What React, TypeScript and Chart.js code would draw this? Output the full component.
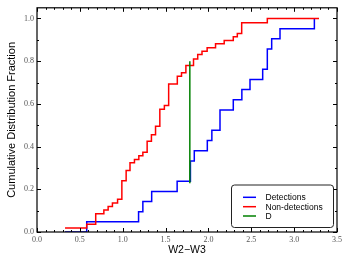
import React, { useEffect, useRef } from 'react';
import { Chart, registerables } from 'chart.js';

Chart.register(...registerables);

// Detections CDF (step positions and cumulative fractions)
const detX = [0.327, 0.58, 1.185, 1.235, 1.338, 1.635, 1.79, 1.835, 1.987, 2.04, 2.135, 2.29, 2.39, 2.485, 2.633, 2.687, 2.738, 2.835, 3.236];
const detY = [0, 0.048, 0.095, 0.143, 0.19, 0.238, 0.333, 0.381, 0.429, 0.476, 0.571, 0.619, 0.667, 0.714, 0.762, 0.857, 0.905, 0.952, 1.0];

// Non-detections CDF
const nonX = [0.327, 0.58, 0.685, 0.78, 0.83, 0.88, 0.94, 0.99, 1.04, 1.085, 1.137, 1.188, 1.235, 1.285, 1.335, 1.383, 1.433, 1.486, 1.536, 1.637, 1.686, 1.737, 1.826, 1.875, 1.925, 1.985, 2.083, 2.184, 2.29, 2.337, 2.388, 2.687, 3.29];
const nonY = [0.019, 0.036, 0.086, 0.103, 0.12, 0.136, 0.153, 0.24, 0.288, 0.324, 0.34, 0.357, 0.373, 0.425, 0.455, 0.495, 0.575, 0.593, 0.693, 0.73, 0.746, 0.78, 0.81, 0.831, 0.847, 0.863, 0.882, 0.897, 0.915, 0.93, 0.98, 1.0, 1.0];

// D statistic line
const dX = [1.783, 1.783];
const dY = [0.228, 0.8];

const seriesLabels = ['Detections', 'Non-detections', 'D'];
const seriesColors = ['#0000ff', '#ff0000', '#008000'];

const xMajor = [0, 0.5, 1.0, 1.5, 2.0, 2.5, 3.0, 3.5];
const yMajor = [0, 0.2, 0.4, 0.6, 0.8, 1.0];

const toPts = (xs: number[], ys: number[]) => xs.map((x, i) => ({ x, y: ys[i] }));

const framePlugin = {
  id: 'frameTicks',
  afterDatasetsDraw(chart: any) {
    const { ctx, chartArea: a, scales } = chart;
    const xs = scales.x;
    const ys = scales.y;
    ctx.save();
    ctx.strokeStyle = '#000';
    ctx.lineWidth = 1;
    ctx.beginPath();
    for (let i = 0; i <= 35; i++) {
      const v = i / 10;
      const px = Math.round(xs.getPixelForValue(v)) + 0.5;
      const major = i % 5 === 0;
      const len = major ? 4 : 2;
      ctx.moveTo(px, a.bottom);
      ctx.lineTo(px, a.bottom - len);
      ctx.moveTo(px, a.top);
      ctx.lineTo(px, a.top + len);
    }
    for (let i = 0; i <= 10; i++) {
      const v = i / 10;
      const py = Math.round(ys.getPixelForValue(v)) + 0.5;
      const major = i % 2 === 0;
      const len = major ? 4 : 2;
      ctx.moveTo(a.left, py);
      ctx.lineTo(a.left + len, py);
      ctx.moveTo(a.right, py);
      ctx.lineTo(a.right - len, py);
    }
    ctx.stroke();
    ctx.lineWidth = 1.2;
    ctx.strokeRect(a.left, a.top, a.right - a.left, a.bottom - a.top);
    ctx.restore();
  },
  afterDraw(chart: any) {
    const { ctx } = chart;
    ctx.save();
    const bx = 231.5, by = 185, bw = 102, bh = 42.5, r = 3;
    ctx.beginPath();
    ctx.moveTo(bx + r, by);
    ctx.arcTo(bx + bw, by, bx + bw, by + bh, r);
    ctx.arcTo(bx + bw, by + bh, bx, by + bh, r);
    ctx.arcTo(bx, by + bh, bx, by, r);
    ctx.arcTo(bx, by, bx + bw, by, r);
    ctx.closePath();
    ctx.fillStyle = '#fff';
    ctx.fill();
    ctx.strokeStyle = '#222';
    ctx.lineWidth = 1;
    ctx.stroke();
    const rows = [197.3, 206.7, 216];
    ctx.font = '8.5px "Liberation Sans", Arial, sans-serif';
    ctx.textBaseline = 'middle';
    ctx.textAlign = 'left';
    seriesLabels.forEach((lab, i) => {
      ctx.strokeStyle = seriesColors[i];
      ctx.lineWidth = 1.5;
      ctx.beginPath();
      ctx.moveTo(243, rows[i]);
      ctx.lineTo(256, rows[i]);
      ctx.stroke();
      ctx.fillStyle = '#000';
      ctx.fillText(lab, 265.5, rows[i] + 0.5);
    });
    ctx.restore();
  },
};

export default function App() {
  const ref = useRef<HTMLCanvasElement>(null);
  useEffect(() => {
    if (!ref.current) return;
    const tickFont = { family: '"Liberation Serif", "DejaVu Serif", serif', size: 8 };
    const chart = new Chart(ref.current, {
      type: 'line',
      data: {
        datasets: [
          {
            label: seriesLabels[0],
            data: toPts(detX, detY),
            borderColor: seriesColors[0],
            borderWidth: 1.5,
            stepped: 'before',
            pointRadius: 0,
            fill: false,
            order: 2,
          },
          {
            label: seriesLabels[1],
            data: toPts(nonX, nonY),
            borderColor: seriesColors[1],
            borderWidth: 1.5,
            stepped: 'before',
            pointRadius: 0,
            fill: false,
            order: 1,
          },
          {
            label: seriesLabels[2],
            data: toPts(dX, dY),
            borderColor: seriesColors[2],
            borderWidth: 1.5,
            pointRadius: 0,
            fill: false,
            order: 0,
          },
        ],
      },
      options: {
        responsive: false,
        animation: false,
        devicePixelRatio: 1,
        layout: { padding: { top: 7.5, right: 15, left: 0, bottom: 0 } },
        plugins: { legend: { display: false }, tooltip: { enabled: false } },
        scales: {
          x: {
            type: 'linear',
            min: 0,
            max: 3.5,
            grid: { display: false, drawTicks: false },
            border: { display: false },
            afterBuildTicks: (s: any) => {
              s.ticks = xMajor.map((v) => ({ value: v }));
            },
            afterFit: (s: any) => {
              s.height = 32;
            },
            ticks: {
              padding: 3,
              color: '#555',
              font: tickFont,
              maxRotation: 0,
              callback: (v: any) => Number(v).toFixed(1),
            },
            title: {
              display: true,
              text: 'W2\u2212W3',
              color: '#000',
              font: { family: '"Liberation Sans", Arial, sans-serif', size: 10.5 },
              padding: { top: 0, bottom: 8 },
            },
          },
          y: {
            type: 'linear',
            min: 0,
            max: 1.05,
            grid: { display: false, drawTicks: false },
            border: { display: false },
            afterBuildTicks: (s: any) => {
              s.ticks = yMajor.map((v) => ({ value: v }));
            },
            afterFit: (s: any) => {
              s.width = 37;
            },
            ticks: {
              padding: 3,
              color: '#555',
              font: tickFont,
              callback: (v: any) => Number(v).toFixed(1),
            },
            title: {
              display: true,
              text: 'Cumulative Distribution Fraction',
              color: '#000',
              font: { family: '"Liberation Sans", Arial, sans-serif', size: 11 },
              padding: { top: 5, bottom: 0 },
            },
          },
        },
      },
      plugins: [framePlugin],
    } as any);
    return () => chart.destroy();
  }, []);
  return (
    <div style={{ position: 'absolute', left: 0, top: 0, width: 352, height: 264, background: '#fff' }}>
      <canvas ref={ref} width={352} height={264} style={{ display: 'block' }} />
    </div>
  );
}
